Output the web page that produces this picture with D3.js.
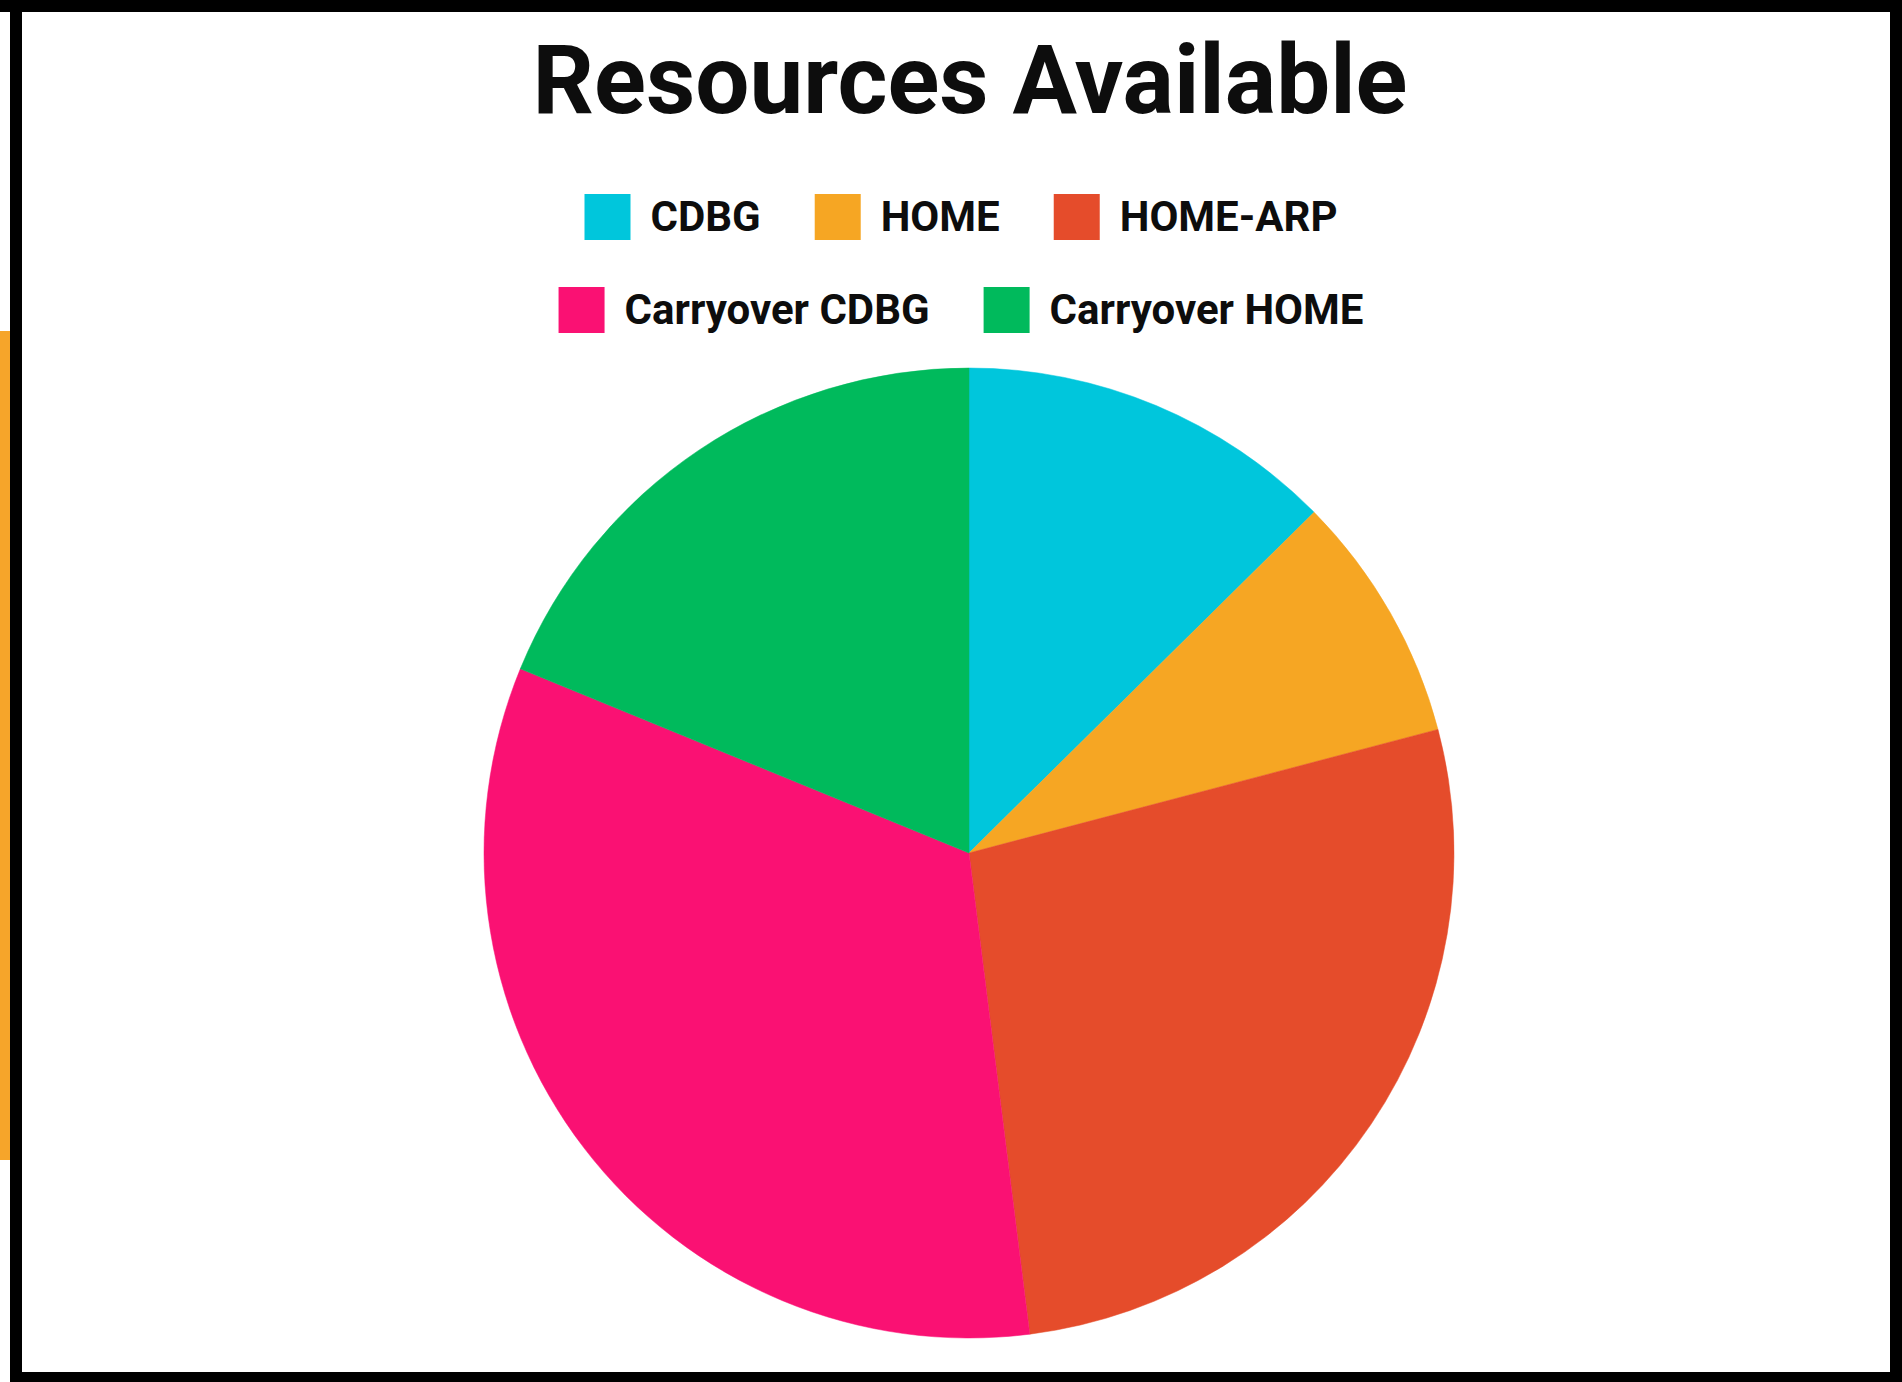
<!DOCTYPE html>
<html>
<head>
<meta charset="utf-8">
<script src="https://cdn.jsdelivr.net/npm/d3@7"></script>
<style>
	html, body { margin: 0; padding: 0; background: #fff; }
	svg { display: block; }
	text { font-family: Roboto, "Liberation Sans", sans-serif; font-weight: 700; fill: #0d0d0d; }
</style>
</head>
<body>
<svg id="chart" width="1902" height="1382"></svg>
<script>
// share of resources (percent of the whole)
var categories = ['CDBG', 'HOME', 'HOME-ARP', 'Carryover CDBG', 'Carryover HOME'];
var shares = [12.6, 8.3, 27.1, 33.2, 18.8];
var colors = ['#00c6dc', '#f6a623', '#e54c2b', '#fa1173', '#00ba5c'];
var legendRows = [[0, 1, 2], [3, 4]];

var W = 1902, H = 1382;
var svg = d3.select('#chart');

// frame: orange strip on the far left, black border round the white card
svg.append('rect').attr('x', 0).attr('y', 0).attr('width', W).attr('height', H).style('fill', '#fff');
svg.append('rect').attr('x', 0).attr('y', 331).attr('width', 11).attr('height', 829).style('fill', '#f6a52a');
svg.append('rect').attr('x', 0).attr('y', 0).attr('width', W).attr('height', 12).style('fill', '#000');
svg.append('rect').attr('x', 10).attr('y', 0).attr('width', 12).attr('height', H).style('fill', '#000');
svg.append('rect').attr('x', W - 12).attr('y', 0).attr('width', 12).attr('height', H).style('fill', '#000');
svg.append('rect').attr('x', 10).attr('y', H - 10).attr('width', W - 10).attr('height', 10).style('fill', '#000');

svg.append('text')
	.attr('x', 970).attr('y', 113)
	.attr('text-anchor', 'middle')
	.style('font-size', '96px')
	.text('Resources Available');

// legend
var color = d3.scaleOrdinal().domain(categories).range(colors);
var box = 46, boxGap = 20, itemGap = 54, legendCx = 961;
var rowY = [217, 310];

legendRows.forEach(function(row, r) {
	var g = svg.append('g');
	var x = 0;
	row.forEach(function(i) {
		var item = g.append('g').attr('transform', 'translate(' + x + ',0)');
		item.append('rect')
			.attr('x', 0).attr('y', -box / 2)
			.attr('width', box).attr('height', box)
			.style('fill', color(categories[i]));
		var t = item.append('text')
			.attr('x', box + boxGap).attr('y', 14)
			.style('font-size', '42px')
			.text(categories[i]);
		x += box + boxGap + t.node().getComputedTextLength() + itemGap;
	});
	var width = x - itemGap;
	g.attr('transform', 'translate(' + (legendCx - width / 2) + ',' + rowY[r] + ')');
});

// pie
var cx = 969, cy = 853, radius = 485;
var pie = d3.pie().sort(null).value(function(d) { return d; });
var arc = d3.arc().innerRadius(0).outerRadius(radius);

svg.append('g')
	.attr('transform', 'translate(' + cx + ',' + cy + ')')
	.selectAll('path')
	.data(pie(shares))
	.join('path')
	.attr('d', arc)
	.style('fill', function(d, i) { return color(categories[i]); })
	.style('stroke', function(d, i) { return color(categories[i]); })
	.style('stroke-width', 0.5);
</script>
</body>
</html>
